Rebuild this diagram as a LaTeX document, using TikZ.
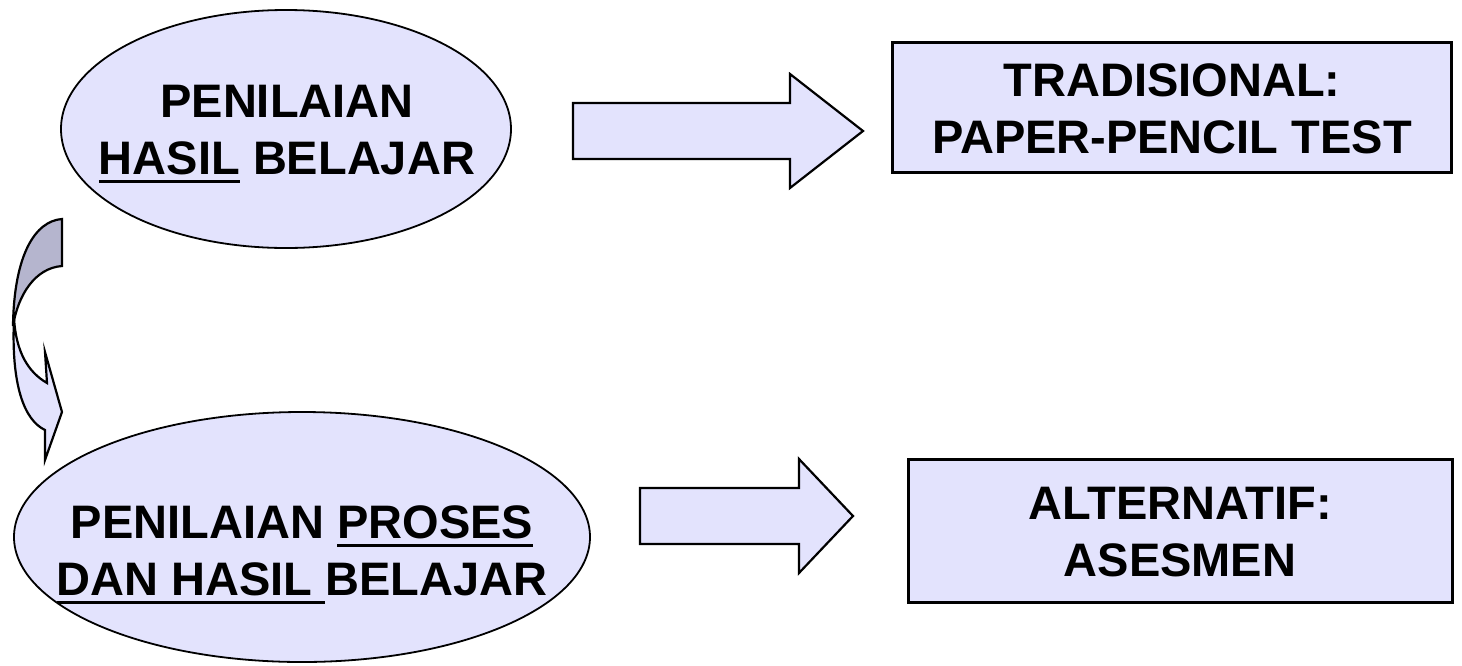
\documentclass[tikz,border=0pt]{standalone}
\usepackage{fontspec}
\setmainfont{Liberation Sans}
\usetikzlibrary{shapes.geometric}
\definecolor{lavender}{RGB}{227,227,253}
\definecolor{belakang}{RGB}{181,181,206}
\newcommand{\garis}[1]{\setbox0\hbox{#1}\rlap{\rule[-9pt]{\wd0}{3.5pt}}\box0\relax}
\tikzset{
  oval/.style={ellipse, draw, line width=1.8pt, fill=lavender, inner sep=0pt},
  kotak/.style={rectangle, draw, line width=3pt, fill=lavender, inner sep=0pt},
  teks/.style={align=center, inner sep=0pt},
  panah/.style={draw, line width=2.2pt, fill=lavender, line join=miter},
}
\begin{document}
\begin{tikzpicture}[x=1pt, y=-1pt, font=\fontsize{47}{57}\selectfont\bfseries]
            \useasboundingbox (0,0) rectangle (1462,665);
            % kurva panah ke bawah
            \draw[panah, fill=belakang] (62,219) .. controls (35,221) and (14,255) .. (13,326) .. controls (18,295) and (35,268) .. (62,266) -- cycle;
            \draw[panah] (14,318) .. controls (11,385) and (24,420) .. (45,430) -- (45,460) -- (62,412) -- (45,352) -- (47,383) .. controls (28,372) and (16,352) .. (14,318) -- cycle;
            \node[oval, minimum width=450, minimum height=238] (hasil) at (286,129) {};
            \node[oval, minimum width=576, minimum height=250] (proses) at (302,537) {};
            \node[kotak, minimum width=559, minimum height=130] (tradisional) at (1172,107) {};
            \node[kotak, minimum width=544, minimum height=143] (alternatif) at (1180,531) {};
            \node[teks] (thasil) at (287,134) {PENILAIAN\\\garis{HASIL} BELAJAR};
            \node[teks] (tproses) at (302,555) {PENILAIAN \garis{PROSES}\\\garis{DAN HASIL\ }BELAJAR};
            \node[teks] (ttradisional) at (1172,109) {TRADISIONAL:\\PAPER-PENCIL TEST};
            \node[teks] (talternatif) at (1180,532) {ALTERNATIF:\\ASESMEN};
            % panah blok
            \foreach \xa/\xb/\xc/\yc in {573/790/863/131, 640/799/853/516}
            \draw[panah] (\xa,\yc-28) -- (\xb,\yc-28) -- (\xb,\yc-57) -- (\xc,\yc) -- (\xb,\yc+57) -- (\xb,\yc+28) -- (\xa,\yc+28) -- cycle;
        \end{tikzpicture}
\end{document}
